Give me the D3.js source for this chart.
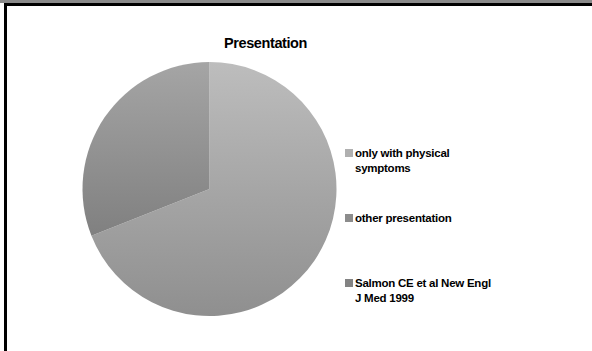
<!DOCTYPE html>
<html>
<head>
<meta charset="utf-8">
<script src="https://cdn.jsdelivr.net/npm/d3@7"></script>
<style>
  html, body { margin: 0; padding: 0; background: #fff; }
</style>
</head>
<body>
<div id="chart"></div>
<script>
// data
const categories = ["only with physical symptoms", "other presentation", "Salmon CE et al New Engl J Med 1999"];
const values = [69, 31, 0];
const legendLines = [["only with physical", "symptoms"], ["other presentation"], ["Salmon CE et al New Engl", "J Med 1999"]];
const title = "Presentation";

const width = 592;
const height = 351;
const cx = 209.5, cy = 189, radius = 127;

const svg = d3.select("#chart")
    .append("svg")
    .attr("width", width)
    .attr("height", height);

// frame: gray strip on top, black rule top and left
svg.append("rect").attr("x", 0).attr("y", 0).attr("width", width).attr("height", 3).attr("fill", "#8a8a8a");
svg.append("rect").attr("x", 4).attr("y", 3).attr("width", width - 4).attr("height", 3).attr("fill", "#000");
svg.append("rect").attr("x", 4).attr("y", 3).attr("width", 3).attr("height", height).attr("fill", "#000");

// vertical gradients for the slices (coords are inside the centred group)
const gradStops = [["#bdbdbd", "#8f8f8f"], ["#a5a5a5", "#6f6f6f"], ["#9a9a9a", "#6a6a6a"]];
const defs = svg.append("defs");
gradStops.forEach((s, i) => {
    const g = defs.append("linearGradient")
        .attr("id", "grad" + i)
        .attr("gradientUnits", "userSpaceOnUse")
        .attr("x1", 0).attr("x2", 0)
        .attr("y1", -radius).attr("y2", radius);
    g.append("stop").attr("offset", "0%").attr("stop-color", s[0]);
    g.append("stop").attr("offset", "100%").attr("stop-color", s[1]);
});

const legendColor = d3.scaleOrdinal()
    .domain(categories)
    .range(["#b0b0b0", "#8c8c8c", "#838383"]);

const pie = d3.pie().value(d => d.value).sort(null);
const arc = d3.arc().innerRadius(0).outerRadius(radius);
const data = categories.map((c, i) => ({ name: c, value: values[i], idx: i }));

svg.append("g")
    .attr("transform", `translate(${cx}, ${cy})`)
    .selectAll("path")
    .data(pie(data).filter(d => d.data.value > 0))
    .enter().append("path")
    .attr("d", arc)
    .attr("fill", d => `url(#grad${d.data.idx})`);

svg.append("text")
    .attr("x", 265.5)
    .attr("y", 48)
    .attr("text-anchor", "middle")
    .style("font-family", "'Liberation Sans', Arial, sans-serif")
    .style("font-weight", "bold")
    .style("font-size", "14.5px")
    .style("letter-spacing", "-0.4px")
    .text(title);

// legend
const ly = d3.scalePoint().domain(categories).range([153, 283]);
const legend = svg.append("g");
categories.forEach((c, i) => {
    const row = legend.append("g").attr("transform", `translate(345, ${ly(c)})`);
    row.append("rect")
        .attr("x", 0).attr("y", -4)
        .attr("width", 8).attr("height", 8)
        .attr("fill", legendColor(c));
    const t = row.append("text")
        .attr("x", 10)
        .attr("y", 4)
        .style("font-family", "'Liberation Sans', Arial, sans-serif")
        .style("font-weight", "bold")
        .style("font-size", "11.5px")
        .style("letter-spacing", "-0.25px")
        .attr("fill", "#000");
    legendLines[i].forEach((line, j) => {
        t.append("tspan").attr("x", 10).attr("dy", j === 0 ? 0 : 15).text(line);
    });
});
</script>
</body>
</html>
